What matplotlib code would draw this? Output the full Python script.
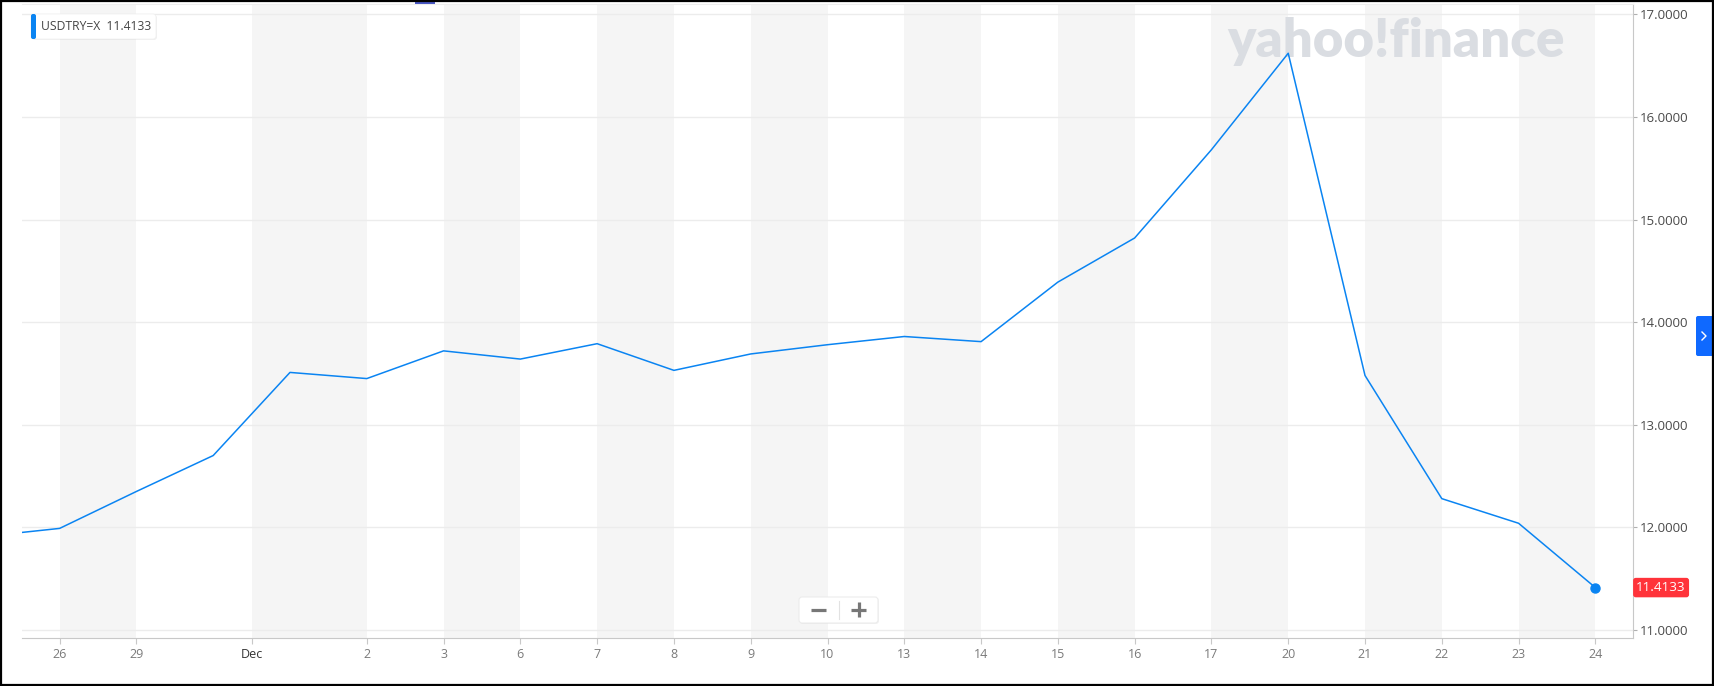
import matplotlib
matplotlib.use("Agg")
import matplotlib.pyplot as plt
import numpy as np
from matplotlib.lines import Line2D
from matplotlib.patches import FancyBboxPatch, Rectangle
from matplotlib.transforms import IdentityTransform

plt.rcParams["font.family"] = ["Open Sans", "DejaVu Sans"]

W, H = 1714, 686

# daily closes (Nov 25 sits just outside the left edge)
ticker = "USDTRY=X"
dates = ["Nov 25", "Nov 26", "Nov 29", "Nov 30", "Dec 1", "Dec 2", "Dec 3",
         "Dec 6", "Dec 7", "Dec 8", "Dec 9", "Dec 10", "Dec 13", "Dec 14",
         "Dec 15", "Dec 16", "Dec 17", "Dec 20", "Dec 21", "Dec 22",
         "Dec 23", "Dec 24"]
prices = [11.91, 11.99, 12.35, 12.70, 13.51, 13.45, 13.72, 13.64, 13.79,
          13.53, 13.69, 13.78, 13.86, 13.81, 14.39, 14.82, 15.68, 16.62,
          13.48, 12.28, 12.04, 11.4133]
tick_dates = ["Nov 26", "Nov 29", "Dec", "Dec 2", "Dec 3", "Dec 6", "Dec 7",
              "Dec 8", "Dec 9", "Dec 10", "Dec 13", "Dec 14", "Dec 15",
              "Dec 16", "Dec 17", "Dec 20", "Dec 21", "Dec 22", "Dec 23",
              "Dec 24"]
y_ticks = [11, 12, 13, 14, 15, 16, 17]

# trading-day index, Nov 26 = 0
idx = {d: i for i, d in enumerate(dates, start=-1)}
idx["Dec"] = (idx["Nov 30"] + idx["Dec 1"]) / 2
x = np.array([idx[d] for d in dates])
tick_pos = [idx[d] for d in tick_dates]
tick_labels = [d.split()[-1] for d in tick_dates]

fig = plt.figure(figsize=(W / 100, H / 100), dpi=100)
ax = fig.add_axes([22 / W, (H - 638) / H, (1633 - 22) / W, (638 - 3.5) / H])
ax.set_xlim(-0.49, 20.49)
ax.set_ylim(10.922, 17.105)

# alternating grey bands between tick labels
for a, b in zip(tick_pos[0::2], tick_pos[1::2]):
    ax.axvspan(a, b, color="#f5f5f5", lw=0, zorder=0)

ax.set_axisbelow(True)
ax.yaxis.grid(True, color="#ececec", lw=1)

ax.text(0.853, 1 - 54 / 634.5, "yahoo!finance", transform=ax.transAxes,
        ha="center", va="baseline", fontsize=38, fontweight="heavy",
        family=["Lato", "DejaVu Sans"], color="#dadde2", zorder=1)

color = "#0a84f2"
ax.plot(x, prices, color=color, lw=1.1, zorder=3)
ax.plot(x[-1], prices[-1], "o", color=color, ms=6.5, zorder=4)

ax.spines["left"].set_visible(False)
ax.spines["top"].set_color("#eeeeee")
ax.spines["right"].set_color("#c8c8c8")
ax.spines["bottom"].set_color("#c8c8c8")

ax.yaxis.tick_right()
ax.set_yticks(y_ticks)
ax.set_yticklabels([f"{v:.4f}" for v in y_ticks])
ax.tick_params(axis="y", length=3, color="#b0b0b0", labelsize=9.5,
               labelcolor="#4a4a4a", pad=2)
ax.set_xticks(tick_pos)
ax.set_xticklabels(tick_labels)
ax.tick_params(axis="x", length=4, color="#c8c8c8", labelsize=9,
               labelcolor="#7a7a7a", pad=3)
ax.get_xticklabels()[2].set_color("#333333")

# last price tag on the right axis
ax.annotate(f"{prices[-1]:.4f}", xy=(1, prices[-1]),
            xycoords=ax.get_yaxis_transform(), xytext=(2.4, 0),
            textcoords="offset points", ha="left", va="center",
            fontsize=9.7, color="white",
            bbox=dict(boxstyle="round,pad=0.24,rounding_size=0.2",
                      fc="#ff333a", ec="none"))

px = IdentityTransform()


def box(x0, y0, w, h, **kw):
    # pixel box, top-left origin
    p = FancyBboxPatch((x0, H - y0 - h), w, h, transform=px, **kw)
    fig.add_artist(p)
    return p


def line(xs, ys, **kw):
    fig.add_artist(Line2D(xs, [H - y for y in ys], transform=px, **kw))


# legend chip
box(32, 15, 125, 25, boxstyle="round,pad=0,rounding_size=3",
    fc="#000000", ec="none", alpha=0.06)
box(31, 14, 125, 25, boxstyle="round,pad=0,rounding_size=3",
    fc="white", ec="#f0f0f0", lw=0.5)
box(31, 14, 5, 25, boxstyle="round,pad=0,rounding_size=2",
    fc="#0a84f2", ec="none")
fig.text(41 / W, 1 - 27 / H, f"{ticker}  {prices[-1]:.4f}", fontsize=8.7,
         color="#444444", va="center", ha="left")

# zoom buttons
box(800, 598, 79, 26, boxstyle="round,pad=0,rounding_size=3",
    fc="#000000", ec="none", alpha=0.05)
box(799, 597, 79, 26, boxstyle="round,pad=0,rounding_size=3",
    fc="white", ec="#ececec", lw=0.8)
line([838.5, 838.5], [601, 619], color="#e2e2e2", lw=0.8)
line([811, 826], [609.5, 609.5], color="#777777", lw=2.3,
     solid_capstyle="butt")
line([851, 866], [609.5, 609.5], color="#777777", lw=2.3,
     solid_capstyle="butt")
line([858.5, 858.5], [602, 617], color="#777777", lw=2.3,
     solid_capstyle="butt")

# side button and top tab
box(1696, 316, 18, 40, boxstyle="round,pad=0,rounding_size=2",
    fc="#0f69ff", ec="none")
line([1702, 1706, 1702], [332, 336, 340], color="white", lw=1)
fig.add_artist(Rectangle((415, H - 4), 20, 4, transform=px,
                         fc="#4a58c4", ec="none"))

# outer frame
fig.add_artist(Rectangle((1, 1), W - 2, H - 2, transform=px, fill=False,
                         ec="black", lw=1.6))

fig.savefig("out.png", dpi=100)
